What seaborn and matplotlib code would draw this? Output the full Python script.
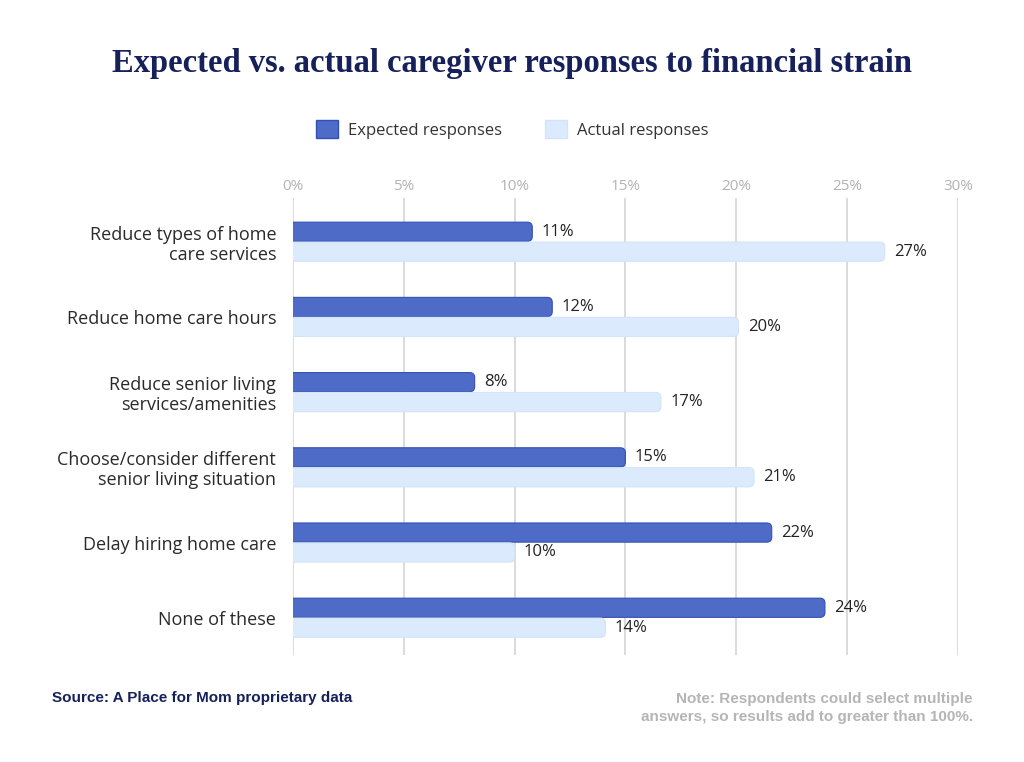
import pandas as pd
import matplotlib
matplotlib.use("Agg")
import matplotlib.pyplot as plt
import seaborn as sns
from matplotlib.patches import FancyBboxPatch

categories = [
    "Reduce types of home\ncare services",
    "Reduce home care hours",
    "Reduce senior living\nservices/amenities",
    "Choose/consider different\nsenior living situation",
    "Delay hiring home care",
    "None of these",
]
expected = [10.8, 11.7, 8.2, 15.0, 21.6, 24.0]
actual = [26.7, 20.1, 16.6, 20.8, 10.0, 14.1]
series_names = ["Expected responses", "Actual responses"]
x_ticks = [0, 5, 10, 15, 20, 25, 30]

fill_colors = ["#4f6bc8", "#dbeafd"]
edge_colors = ["#3350b5", "#d3e4f8"]
navy = "#16205a"

df = pd.DataFrame({
    "category": categories * 2,
    "value": expected + actual,
    "series": [series_names[0]] * len(categories) + [series_names[1]] * len(categories),
})

sns.set_theme(style="white")
plt.rcParams["font.family"] = ["Open Sans", "DejaVu Sans"]

fig = plt.figure(figsize=(10.24, 7.62), dpi=100)
ax = fig.add_axes([0.286, 0.140, 0.6495, 0.600])

sns.barplot(data=df, y="category", x="value", hue="series", order=categories,
            hue_order=series_names, palette=fill_colors, width=0.53,
            orient="h", ax=ax, legend=False)

ax.set_xlim(0, 30)
ax.set_ylim(5.5, -0.58)

# swap plain bars for ones with rounded right ends
fig.canvas.draw()
bbox = ax.get_window_extent()
px_x = bbox.width / 30.0
px_y = bbox.height / 6.08
r_px = 5.0
r_x = r_px / px_x
aspect = (r_px / px_y) / r_x
bars = list(ax.patches)
for i, bar in enumerate(bars):
    s = i // len(categories)
    x0, y0 = bar.get_x(), bar.get_y()
    w, h = bar.get_width(), bar.get_height()
    bar.set_visible(False)
    fb = FancyBboxPatch((x0 - 1.0, y0 + 0.005), w + 1.0, h - 0.01,
                        boxstyle=f"round,pad=0,rounding_size={r_x}",
                        mutation_aspect=aspect, facecolor=fill_colors[s],
                        edgecolor=edge_colors[s], linewidth=0.8, zorder=3)
    ax.add_patch(fb)
    ax.text(x0 + w + 0.42, y0 + h / 2, f"{round(w)}%", va="center", ha="left",
            fontsize=12, color="#222222")

ax.set_xticks(x_ticks)
ax.set_xticklabels([f"{t}%" for t in x_ticks])
ax.xaxis.tick_top()
ax.tick_params(axis="x", length=0, pad=3, labelsize=11, labelcolor="#b3b3b3")
ax.tick_params(axis="y", length=0, pad=12, labelsize=13, labelcolor="#2a2a2a")
for lbl in ax.get_yticklabels():
    lbl.set_linespacing(1.15)
ax.grid(axis="x", color="#d4d4d4", linewidth=1.2, zorder=0)
ax.set_axisbelow(True)
for sp in ax.spines.values():
    sp.set_visible(False)
ax.set_xlabel("")
ax.set_ylabel("")

handles = [
    FancyBboxPatch((0, 0), 1, 1, boxstyle="round,pad=0,rounding_size=0.25",
                   facecolor=fill_colors[k], edgecolor=edge_colors[k])
    for k in range(2)
]
fig.legend(handles, series_names, loc="center", bbox_to_anchor=(0.5, 0.830),
           ncol=2, frameon=False, fontsize=12, handlelength=1.3,
           handleheight=1.3, handletextpad=0.6, columnspacing=2.6,
           labelcolor="#333333")

fig.text(0.5, 0.917, "Expected vs. actual caregiver responses to financial strain",
         ha="center", va="center", fontsize=23.5, fontweight="bold",
         color=navy, family=["Liberation Serif", "DejaVu Serif"])

fig.text(0.051, 0.084, "Source: A Place for Mom proprietary data", ha="left",
         va="center", fontsize=11, fontweight="bold", color=navy,
         family=["Liberation Sans", "DejaVu Sans"])
fig.text(0.950, 0.071, "Note: Respondents could select multiple\nanswers, so results add to greater than 100%.",
         ha="right", va="center", fontsize=11, fontweight="bold",
         color="#b5b5b5", linespacing=1.3, family=["Liberation Sans", "DejaVu Sans"])

fig.savefig("out.png", dpi=100, facecolor="white")
